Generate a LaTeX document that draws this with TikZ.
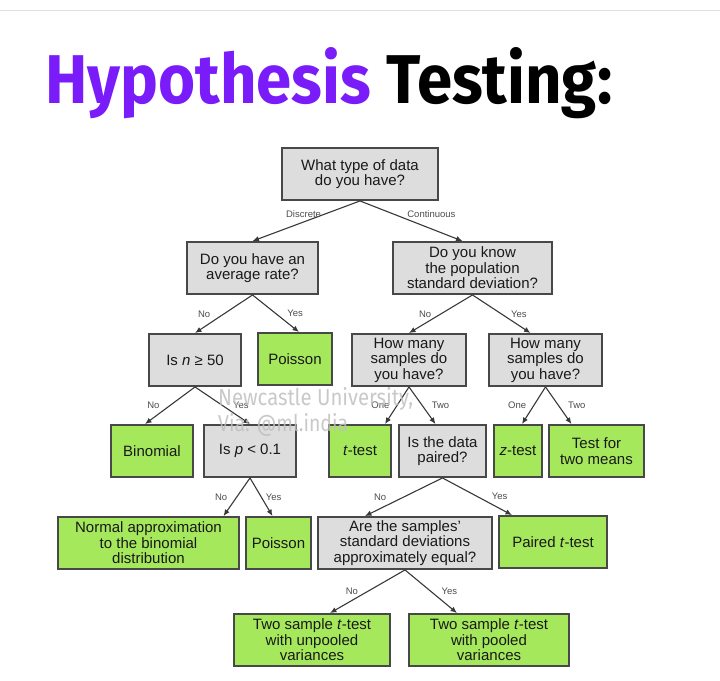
\documentclass[tikz,border=0pt]{standalone}
\usepackage{fontspec}
\setmainfont{Liberation Sans}
\newfontfamily\headfont{Fira Sans}
\usetikzlibrary{positioning,arrows.meta}
\definecolor{qgray}{RGB}{221,221,221}
\definecolor{agreen}{RGB}{166,232,92}
\definecolor{edgegray}{RGB}{72,72,72}
\definecolor{hpurple}{RGB}{122,28,250}

\begin{document}
\begin{tikzpicture}[x=1pt, y=-1pt,
  font=\fontsize{15}{15.5}\selectfont,
  box/.style={rectangle, draw=edgegray, line width=1.9pt, inner sep=0pt, align=center,
              text=black!90, minimum height=52pt},
  qst/.style={box, fill=qgray},
  res/.style={box, fill=agreen},
  flow/.style={-{Latex[length=6.5pt,width=5.5pt]}, draw=black!78, line width=1.1pt},
  yn/.style={font=\fontsize{9.5}{10}\selectfont, text=black!70, inner sep=1pt},
  wmk/.style={anchor=base west, inner sep=0pt, text=black!25, opacity=.85,
              font=\headfont}
]
\useasboundingbox (0,0) rectangle (720,680);
\draw[black!12, line width=1pt] (0,10) -- (720,10);

\node[anchor=base west, inner sep=0pt] (title) at (45,103)
  {\resizebox{567pt}{56pt}{\headfont\bfseries{\color{hpurple}Hypothesis} Testing:}};

\node[qst, minimum width=156pt] (data)   at (360,174)   {What type of data\\do you have?};
\node[qst, minimum width=131pt] (rate)   at (252.5,268) {Do you have an\\average rate?};
\node[qst, minimum width=159pt] (sigma)  at (472.5,268) {Do you know\\the population\\standard deviation?};
\node[qst, minimum width=92pt]  (nbig)   at (195,360)   {Is \textit{n} ≥ 50};
\node[res, minimum width=74pt]  (pois)   at (295,359)   {Poisson};
\node[qst, minimum width=114pt] (howa)   at (409,360)   {How many\\samples do\\you have?};
\node[qst, minimum width=113pt] (howb)   at (545.5,360) {How many\\samples do\\you have?};
\node[res, minimum width=82pt]  (binom)  at (152,451)   {Binomial};
\node[qst, minimum width=92pt]  (psmall) at (250,451)   {Is \textit{p} < 0.1};
\node[res, minimum width=62pt]  (ttest)  at (360,451)   {\textit{t}-test};
\node[qst, minimum width=87pt]  (paired) at (442.5,451) {Is the data\\paired?};
\node[res, minimum width=48pt]  (ztest)  at (518,451)   {\textit{z}-test};
\node[res, minimum width=95pt]  (twom)   at (596.5,451) {Test for\\two means};
\node[res, minimum width=181pt] (normal) at (148.5,543) {Normal approximation\\to the binomial\\distribution};
\node[res, minimum width=65pt]  (poisb)  at (278.5,543) {Poisson};
\node[qst, minimum width=174pt] (equal)  at (405,543)   {Are the samples'\\standard deviations\\approximately equal?};
\node[res, minimum width=108pt] (pairt)  at (553,542)   {Paired \textit{t}-test};
\node[res, minimum width=156pt] (unpool) at (312,640)   {Two sample \textit{t}-test\\with unpooled\\variances};
\node[res, minimum width=160pt] (pool)   at (489,640)   {Two sample \textit{t}-test\\with pooled\\variances};

\draw[flow] (data.south) -- node[yn, pos=.33, left=2pt] {Discrete} (rate.north);
\draw[flow] (data.south) -- node[yn, pos=.33, right=12pt] {Continuous} ([xshift=-10pt]sigma.north);
\draw[flow] (rate.south) -- node[yn, left=12pt] {No} (nbig.north);
\draw[flow] (rate.south) -- node[yn, right=10pt] {Yes} ([xshift=4pt]pois.north);
\draw[flow] (sigma.south) -- node[yn, left=8pt] {No} (howa.north);
\draw[flow] (sigma.south) -- node[yn, right=8pt] {Yes} ([xshift=-15pt]howb.north);
\draw[flow] (nbig.south) -- node[yn, left=9pt] {No} ([xshift=-7pt]binom.north);
\draw[flow] (nbig.south) -- node[yn, right=9pt] {Yes} (psmall.north);
\draw[flow] (howa.south) -- node[yn, left=6pt] {One} ([xshift=25pt]ttest.north);
\draw[flow] (howa.south) -- node[yn, right=8pt] {Two} ([xshift=-7pt]paired.north);
\draw[flow] (howb.south) -- node[yn, left=6pt] {One} ([xshift=4pt]ztest.north);
\draw[flow] (howb.south) -- node[yn, right=8pt] {Two} ([xshift=-25pt]twom.north);
\draw[flow] (psmall.south) -- node[yn, left=8pt] {No} ([xshift=75pt]normal.north);
\draw[flow] (psmall.south) -- node[yn, right=3pt] {Yes} ([xshift=-6pt]poisb.north);
\draw[flow] (paired.south) -- node[yn, left=16pt] {No} ([xshift=-40pt]equal.north);
\draw[flow] (paired.south) -- node[yn, right=13pt] {Yes} ([xshift=-41pt]pairt.north);
\draw[flow] (equal.south) -- node[yn, left=8pt] {No} ([xshift=18pt]unpool.north);
\draw[flow] (equal.south) -- node[yn, right=9pt] {Yes} ([xshift=-32pt]pool.north);

\node[wmk] (wmtop) at (218,405) {\resizebox{195pt}{18pt}{Newcastle University,}};
\node[wmk] (wmbot) at (218,431) {\resizebox{130pt}{18pt}{Via: @ml.india}};
\end{tikzpicture}
\end{document}
